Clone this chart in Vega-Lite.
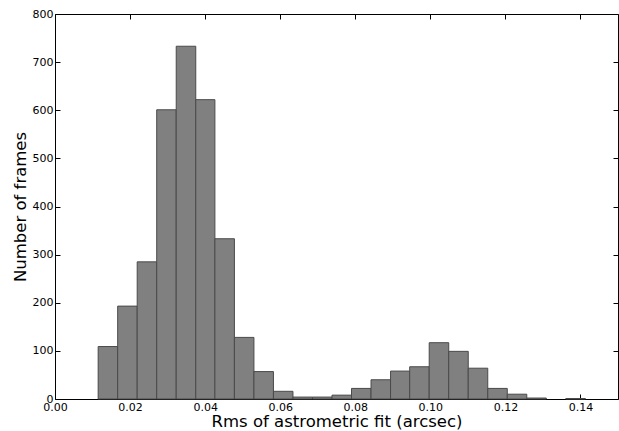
{
  "$schema": "https://vega.github.io/schema/vega-lite/v6.json",
  "width": 563,
  "height": 385,
  "autosize": "none",
  "padding": {"left": 55, "top": 14, "right": 1, "bottom": 32},
  "background": "white",
  "config": {
    "view": {"stroke": "black", "strokeWidth": 1},
    "font": "DejaVu Sans",
    "axis": {
      "domain": false,
      "grid": false,
      "tickSize": -5,
      "tickColor": "black",
      "tickWidth": 1,
      "labelFont": "DejaVu Sans",
      "labelFontSize": 11,
      "labelColor": "black",
      "labelPadding": 7,
      "labelFlush": false,
      "labelOverlap": false,
      "titleFont": "DejaVu Sans",
      "titleFontSize": 16.5,
      "titleFontWeight": "normal",
      "titleColor": "black"
    }
  },
  "data": {
    "values": [
      {"bin_start": 0.0115, "bin_end": 0.0167, "count": 109},
      {"bin_start": 0.0167, "bin_end": 0.0219, "count": 193},
      {"bin_start": 0.0219, "bin_end": 0.0271, "count": 285},
      {"bin_start": 0.0271, "bin_end": 0.0323, "count": 601},
      {"bin_start": 0.0323, "bin_end": 0.0375, "count": 733},
      {"bin_start": 0.0375, "bin_end": 0.0426, "count": 622},
      {"bin_start": 0.0426, "bin_end": 0.0478, "count": 333},
      {"bin_start": 0.0478, "bin_end": 0.0530, "count": 128},
      {"bin_start": 0.0530, "bin_end": 0.0582, "count": 57},
      {"bin_start": 0.0582, "bin_end": 0.0634, "count": 16},
      {"bin_start": 0.0634, "bin_end": 0.0686, "count": 4},
      {"bin_start": 0.0686, "bin_end": 0.0738, "count": 4},
      {"bin_start": 0.0738, "bin_end": 0.0790, "count": 8},
      {"bin_start": 0.0790, "bin_end": 0.0842, "count": 22},
      {"bin_start": 0.0842, "bin_end": 0.0894, "count": 40},
      {"bin_start": 0.0894, "bin_end": 0.0945, "count": 58},
      {"bin_start": 0.0945, "bin_end": 0.0997, "count": 67},
      {"bin_start": 0.0997, "bin_end": 0.1049, "count": 117},
      {"bin_start": 0.1049, "bin_end": 0.1101, "count": 99},
      {"bin_start": 0.1101, "bin_end": 0.1153, "count": 64},
      {"bin_start": 0.1153, "bin_end": 0.1205, "count": 22},
      {"bin_start": 0.1205, "bin_end": 0.1257, "count": 10},
      {"bin_start": 0.1257, "bin_end": 0.1309, "count": 2},
      {"bin_start": 0.1361, "bin_end": 0.1413, "count": 1}
    ]
  },
  "layer": [
    {
      "mark": {"type": "bar", "fill": "#808080", "stroke": "#4a4a4a", "strokeWidth": 1, "orient": "vertical"},
      "encoding": {
        "x": {
          "field": "bin_start", "type": "quantitative",
          "scale": {"domain": [0, 0.15], "nice": false, "zero": false, "padding": 0},
          "axis": {"orient": "bottom", "values": [0, 0.02, 0.04, 0.06, 0.08, 0.1, 0.12, 0.14], "format": ".2f", "title": "Rms of astrometric fit (arcsec)", "titlePadding": 1}
        },
        "x2": {"field": "bin_end"},
        "y": {
          "field": "count", "type": "quantitative",
          "scale": {"domain": [0, 800], "nice": false, "padding": 0},
          "axis": {"orient": "left", "values": [0, 100, 200, 300, 400, 500, 600, 700, 800], "title": "Number of frames", "titlePadding": 4}
        },
        "y2": {"datum": 0}
      }
    },
    {
      "mark": {"type": "bar", "opacity": 0, "orient": "vertical"},
      "encoding": {
        "x": {
          "field": "bin_start", "type": "quantitative",
          "scale": {"domain": [0, 0.15], "nice": false, "zero": false, "padding": 0},
          "axis": {"orient": "top", "values": [0, 0.02, 0.04, 0.06, 0.08, 0.1, 0.12, 0.14], "labels": false, "title": null}
        },
        "x2": {"field": "bin_end"},
        "y": {
          "field": "count", "type": "quantitative",
          "scale": {"domain": [0, 800], "nice": false, "padding": 0},
          "axis": {"orient": "right", "values": [0, 100, 200, 300, 400, 500, 600, 700, 800], "labels": false, "title": null}
        },
        "y2": {"datum": 0}
      }
    }
  ],
  "resolve": {"axis": {"x": "independent", "y": "independent"}}
}
